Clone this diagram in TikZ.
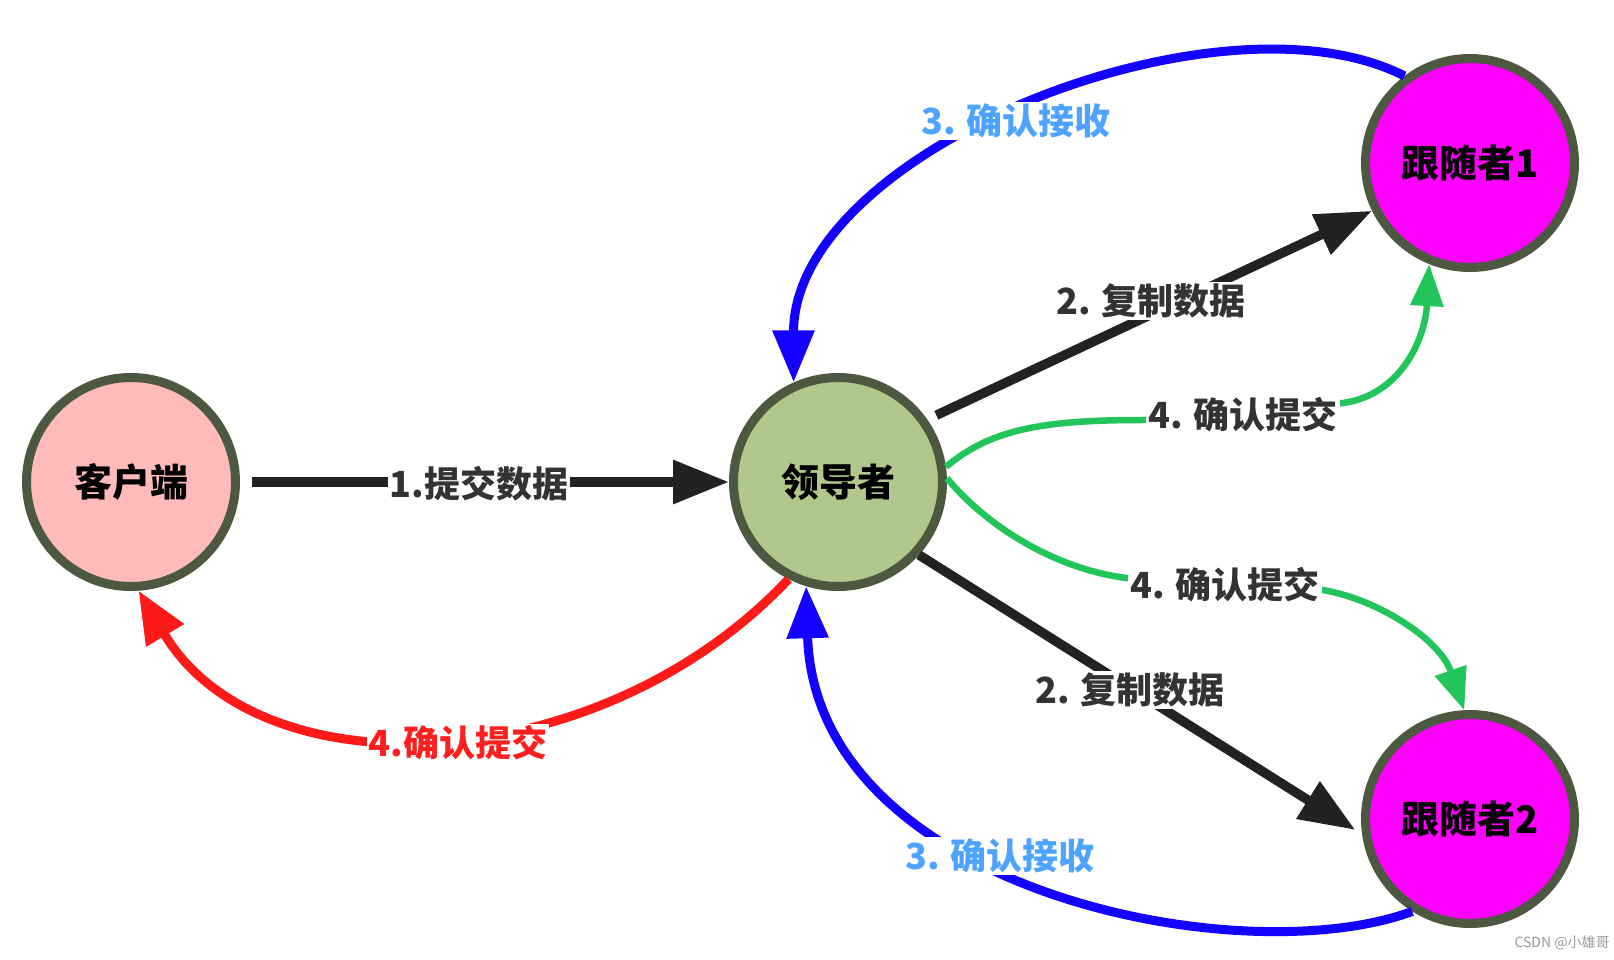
\documentclass[tikz,border=0pt]{standalone}
\usepackage{fontspec}
\setmainfont{Noto Sans CJK SC}
\usetikzlibrary{arrows.meta}
\definecolor{bordercol}{HTML}{4D5840}
\definecolor{clientfill}{HTML}{FFBABA}
\definecolor{leaderfill}{HTML}{B0C88C}
\definecolor{followfill}{HTML}{FF00FF}
\definecolor{arrblack}{HTML}{222222}
\definecolor{arrblue}{HTML}{1400FF}
\definecolor{arrgreen}{HTML}{22C55A}
\definecolor{arrred}{HTML}{FF1A1A}
\definecolor{labdark}{HTML}{333333}
\definecolor{labblue}{HTML}{4DA3FF}
\definecolor{labred}{HTML}{FF1F1F}
\definecolor{wmgray}{HTML}{999999}
\tikzset{
  state/.style={circle, draw=bordercol, line width=9pt, minimum size=209pt, inner sep=0pt,
    font=\fontsize{38}{38}\selectfont\bfseries, text=black},
  blackarr/.style={draw=arrblack, line width=9.5pt, -{Triangle[length=56pt,width=42pt]}},
  bluearr/.style={draw=arrblue, line width=9pt, -{Triangle[length=52pt,width=40pt]}},
  redarr/.style={draw=arrred, line width=9pt, -{Triangle[length=52pt,width=42pt]}},
  greenarr/.style={draw=arrgreen, line width=6.5pt, -{Triangle[length=42pt,width=32pt]}},
  lab/.style={fill=white, inner sep=2pt, font=\fontsize{36}{36}\selectfont\bfseries}
}
\begin{document}
\begin{tikzpicture}[x=1pt,y=-1pt]
\fill[white] (0,0) rectangle (1614,960);
\useasboundingbox (0,0) rectangle (1614,960);
\node[state, fill=clientfill] (c) at (131,482) {客户端};
\node[state, fill=leaderfill] (l) at (838,482) {领导者};
\node[state, fill=followfill] (f1) at (1470,163) {跟随者1};
\node[state, fill=followfill] (f2) at (1470,819) {跟随者2};

% 1. client -> leader
\draw[blackarr, shorten <=12pt] (c) -- (l);
% 2. leader -> followers
\draw[blackarr, shorten <=10pt] (l.35) -- (f1.206);
\draw[blackarr, shorten >=8pt] (l.-42) -- (f2.188);
% 3. followers -> leader
\draw[bluearr] (f1.127) .. controls (1220,-18) and (793,150) .. (l.114);
\draw[bluearr] (f2.238) .. controls (1240,975) and (815,890) .. (l.253);
% 4. leader -> client
\draw[redarr] (l.243) .. controls (600,780) and (260,795) .. (c.274);
% 4. leader -> followers (commit)
\draw[greenarr] (l.8) .. controls (990,430) and (1040,420) .. (1143,420) -- (1343,403)
   .. controls (1400,395) and (1425,340) .. (f1.248);
\draw[greenarr] (l.2) .. controls (990,530) and (1060,570) .. (1127,578) -- (1323,590)
   .. controls (1380,600) and (1440,640) .. (f2.93);

% labels
\node[lab, text=labdark] (t1) at (479,484) {1.提交数据};
\node[lab, text=labdark] (t2) at (1151,301) {2. 复制数据};
\node[lab, text=labdark] (t3) at (1130,690) {2. 复制数据};
\node[lab, text=labblue] (t4) at (1016,121) {3. 确认接收};
\node[lab, text=labblue] (t5) at (1000,856) {3. 确认接收};
\node[lab, text=labred] (t6) at (458,743) {4.确认提交};
\node[lab, text=labdark] (t7) at (1243,415) {4. 确认提交};
\node[lab, text=labdark] (t8) at (1225,585) {4. 确认提交};

\node[font=\fontsize{14}{14}\selectfont, text=wmgray] (wm) at (1562,943) {CSDN @小雄哥};
\end{tikzpicture}
\end{document}
